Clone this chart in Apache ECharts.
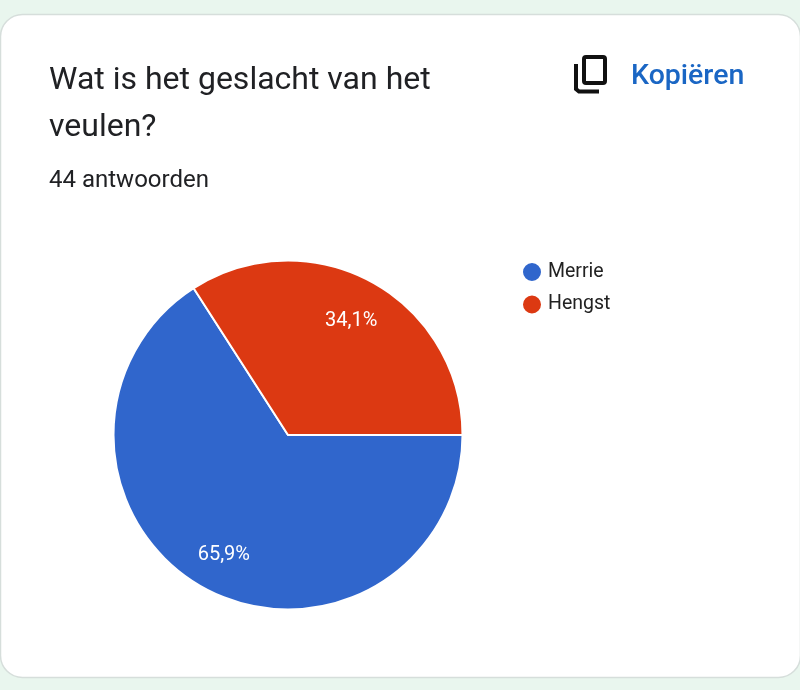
<!DOCTYPE html>
<html><head><meta charset="utf-8">
<style>html,body{margin:0;padding:0;background:#e9f6ee}#c{width:800px;height:690px}</style>
<script src="https://cdn.jsdelivr.net/npm/echarts@6/dist/echarts.min.js"></script>
</head><body><div id="c"></div>
<script>
const categories = ["Merrie", "Hengst"];
const values = [29, 15];
const colors = ["#3066cc", "#dc3912"];
const titleLines = ["Wat is het geslacht van het", "veulen?"];
const subtitle = "44 antwoorden";
const copyLabel = "Kopiëren";
const pct = v => (v / values.reduce((a, b) => a + b, 0) * 100).toFixed(1).replace(".", ",") + "%";
const pieData = categories.map((name, i) => ({ name, value: values[i] }));
const font = "Roboto";
const chart = echarts.init(document.getElementById("c"), null, { renderer: "canvas" });
chart.setOption({
  animation: false,
  backgroundColor: "#e9f6ee",
  color: colors,
  graphic: [
    { type: "rect", z: -10, shape: { x: 0.5, y: 14.5, width: 800, height: 663, r: 22 },
      style: { fill: "#ffffff", stroke: "#d6dedb", lineWidth: 1.5 } },
    { type: "text", left: 49, top: 65, style: { text: titleLines[0], font: "400 32px " + font, fill: "#202124" } },
    { type: "text", left: 49, top: 112, style: { text: titleLines[1], font: "400 32px " + font, fill: "#202124" } },
    { type: "text", left: 49, top: 169, style: { text: subtitle, font: "400 24px " + font, fill: "#202124" } },
    { type: "text", left: 631, top: 62, style: { text: copyLabel, font: "500 28.5px " + font, fill: "#1a66c4" } },
    { type: "rect", shape: { x: 584, y: 57, width: 21, height: 26, r: 2 },
      style: { fill: "none", stroke: "#111111", lineWidth: 4 } },
    { type: "polyline", shape: { points: [[576, 64], [576, 89], [579, 91.5], [599, 91.5]] },
      style: { fill: "none", stroke: "#111111", lineWidth: 4 } }
  ],
  legend: {
    data: categories, orient: "vertical", left: 516, top: 256, icon: "circle",
    itemWidth: 20, itemHeight: 20, itemGap: 10.5,
    textStyle: { color: "#222222", fontFamily: font, fontSize: 19.5, padding: [0, 0, 0, 1] }
  },
  series: [
    { type: "pie", center: [288, 435], radius: [0, 174.5], startAngle: 0, clockwise: true,
      data: pieData, label: { show: false }, labelLine: { show: false }, silent: true,
      itemStyle: { borderColor: "#ffffff", borderWidth: 2 } },
    { type: "pie", center: [288, 435], radius: [92, 174], startAngle: 0, clockwise: true,
      data: pieData, silent: true, legendHoverLink: false, z: 5,
      itemStyle: { color: "transparent", borderWidth: 0 },
      label: { show: true, position: "inside", color: "#ffffff", fontFamily: font, fontSize: 20,
        formatter: p => pct(p.value) },
      labelLayout: p => p.dataIndex === 1 ? { dx: -2, dy: 5 } : { dx: 1, dy: 1 },
      labelLine: { show: false } }
  ]
});
</script></body></html>
